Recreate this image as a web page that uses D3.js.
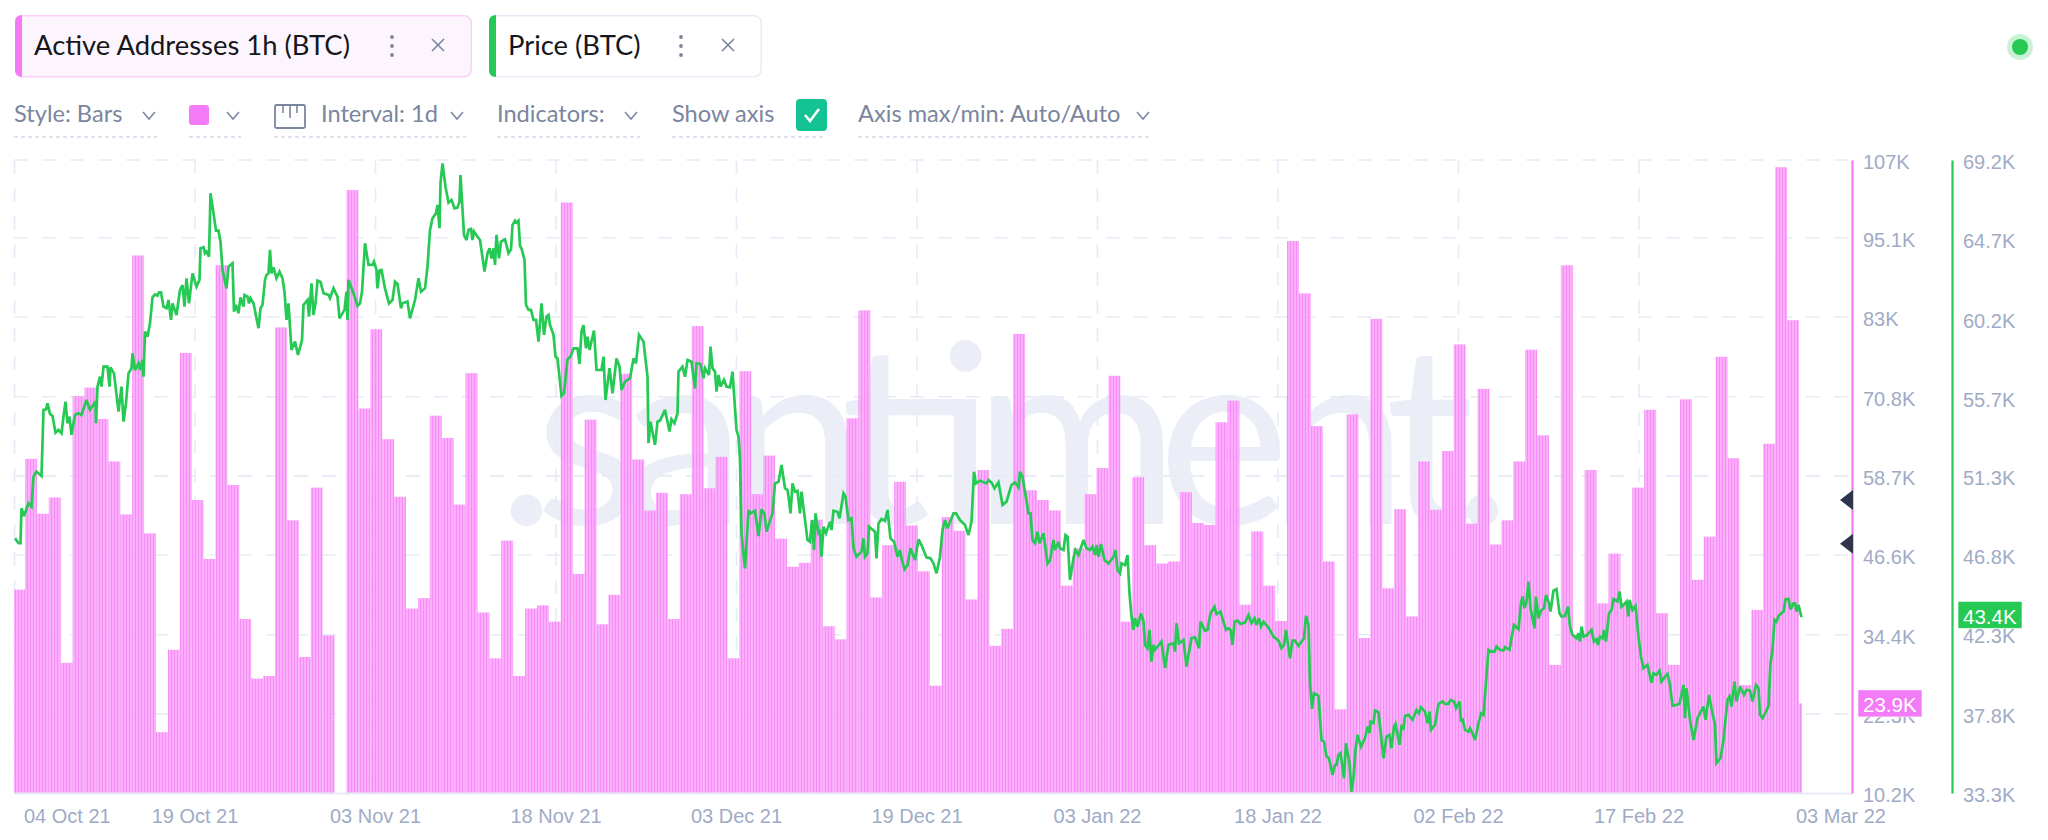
<!DOCTYPE html>
<html>
<head>
<meta charset="utf-8">
<script src="https://cdn.jsdelivr.net/npm/d3@7/dist/d3.min.js"></script>
<style>
  html, body { margin: 0; padding: 0; background: #fff; overflow: hidden; }
  svg { display: block; }
  .ctl { font-family: Lato, "Open Sans", sans-serif; font-size: 23.6px; fill: #7a859e; }
  .chipText { font-family: Lato, "Open Sans", sans-serif; font-size: 27.4px; fill: #15171c; }
  .tick text, .axisText { font-family: "Liberation Sans", Arial, sans-serif; font-size: 20px; fill: #a0abc6; }
</style>
</head>
<body>
<div id="chart"></div>
<script>
//Active addresses per day (thousands), 04 Oct 21 to 03 Mar 22
var activeAddresses = [
  41.3,61.3,52.9,55.4,30.1,70.9,72.2,67.4,60.9,52.8,92.4,49.9,19.5,32.1,77.5,55.0,46.0,90.9,57.3,36.8,
  27.7,28.1,81.4,51.9,31.0,56.9,34.3,10.2,102.4,69.0,81.1,64.3,55.5,38.4,40.0,67.9,64.5,54.3,74.4,37.8,
  30.8,48.8,28.1,38.4,38.9,36.4,100.5,43.7,67.3,36.0,40.5,74.3,61.2,53.4,56.1,36.8,55.9,81.6,56.8,61.6,
  30.8,74.7,55.9,61.8,49.1,44.8,45.4,52.0,35.7,33.7,67.5,84.0,40.1,48.1,57.8,51.1,44.1,26.6,52.4,50.3,
  39.8,59.6,32.7,35.3,80.4,56.5,55.0,53.4,41.9,47.6,55.9,59.9,74.0,36.4,58.5,48.1,45.3,45.6,56.2,51.5,
  51.2,66.9,70.2,39.0,50.2,41.9,36.5,94.6,86.6,66.3,45.6,23.0,68.1,33.9,82.7,41.5,53.6,37.2,60.9,53.5,
  62.5,78.8,51.4,72.0,48.2,51.9,60.9,78.0,64.9,29.8,90.9,34.4,59.6,39.2,46.8,39.2,56.9,68.8,37.7,29.8,
  70.4,42.8,49.4,76.9,61.4,26.7,38.2,63.6,105.9,82.5,23.9
];

//Price (thousands of USD) at its turning points, with the hour since the first reading
var priceHours = [
  2,9,13,15,20,29,35,39,45,55,59,64,67,72,77,83,89,95,99,103,107,111,115,122,129,135,145,152,163,164,
  167,172,175,179,187,191,193,200,209,215,219,224,229,235,237,242,249,252,257,259,262,267,272,277,282,287,290,294,299,305,
  309,314,317,325,332,337,341,345,350,357,365,371,373,379,382,385,390,393,400,404,409,413,417,425,429,437,440,444,449,453,
  459,461,467,470,473,479,489,493,497,502,505,509,512,515,519,525,531,537,541,545,549,555,562,568,576,579,587,590,595,599,
  603,607,613,619,629,632,639,647,651,661,665,667,669,679,687,692,696,702,709,717,720,725,727,731,735,742,750,757,762,767,
  774,777,787,792,802,809,814,822,827,832,837,844,847,851,853,857,863,869,875,881,887,891,893,900,905,909,914,917,920,927,
  932,941,947,951,955,959,962,965,970,974,982,989,994,997,1002,1005,1009,1012,1015,1021,1024,1029,1034,1039,1044,1049,1055,1060,1065,1069,
  1072,1079,1083,1087,1095,1100,1107,1113,1119,1127,1131,1135,1139,1144,1147,1151,1160,1165,1175,1179,1183,1191,1197,1205,1211,1215,1222,1232,1239,1244,
  1250,1259,1267,1269,1273,1282,1287,1292,1302,1311,1315,1321,1327,1329,1337,1342,1347,1355,1362,1365,1373,1379,1382,1390,1393,1397,1402,1405,1409,1413,
  1420,1425,1432,1437,1445,1449,1452,1455,1460,1462,1469,1473,1482,1489,1495,1501,1505,1517,1522,1529,1535,1542,1547,1550,1553,1557,1562,1567,1572,1575,
  1587,1592,1596,1600,1603,1609,1612,1615,1619,1624,1632,1635,1639,1647,1651,1659,1663,1669,1675,1679,1685,1695,1699,1702,1707,1710,1722,1725,1729,1735,
  1742,1747,1753,1760,1767,1772,1775,1781,1787,1793,1802,1809,1815,1819,1825,1833,1839,1845,1852,1857,1862,1867,1879,1884,1892,1902,1909,1915,1920,1924,
  1932,1945,1949,1955,1961,1969,1977,1985,1995,2002,2009,2012,2017,2029,2033,2037,2042,2047,2051,2059,2067,2072,2079,2082,2089,2092,2099,2103,2107,2112,
  2119,2123,2129,2139,2145,2152,2157,2162,2165,2169,2174,2181,2189,2199,2203,2207,2212,2215,2222,2227,2231,2235,2239,2242,2247,2254,2259,2262,2267,2271,
  2275,2279,2282,2295,2302,2309,2319,2322,2325,2330,2339,2345,2355,2362,2370,2373,2382,2387,2393,2401,2405,2413,2424,2429,2433,2437,2441,2447,2453,2462,
  2469,2475,2481,2485,2490,2494,2499,2510,2519,2529,2535,2540,2544,2552,2557,2562,2569,2580,2584,2589,2592,2596,2600,2609,2615,2620,2625,2630,2637,2642,
  2645,2649,2653,2660,2664,2671,2675,2679,2683,2687,2694,2702,2707,2711,2713,2719,2722,2729,2739,2745,2751,2755,2760,2763,2771,2775,2779,2782,2789,2797,
  2805,2810,2814,2822,2827,2831,2834,2842,2849,2857,2862,2869,2873,2880,2884,2891,2894,2897,2902,2909,2912,2917,2922,2929,2934,2939,2949,2955,2961,2965,
  2972,2979,2982,2991,2995,3000,3009,3014,3017,3021,3025,3029,3033,3041,3044,3049,3054,3060,3064,3069,3073,3079,3085,3091,3095,3102,3108,3112,3117,3125,
  3129,3132,3135,3139,3145,3155,3160,3165,3168,3172,3177,3180,3184,3190,3195,3199,3207,3211,3215,3222,3225,3229,3231,3237,3243,3249,3254,3259,3267,3275,
  3279,3285,3291,3295,3302,3307,3312,3317,3331,3339,3342,3345,3352,3359,3367,3379,3383,3390,3395,3402,3405,3413,3419,3427,3431,3435,3441,3445,3452,3460,
  3465,3472,3477,3484,3489,3492,3497,3504,3509,3513,3517,3521,3525,3529,3539,3543,3549,3553,3559,3562,3565,3569,3575
];
var priceValues = [
  47.75,47.47,47.47,49.45,49.01,49.73,49.54,51.25,51.53,51.28,55.03,55.06,55.40,54.80,54.68,53.74,53.89,53.70,54.65,55.50,54.27,54.65,53.61,54.74,54.84,54.74,55.59,55.03,55.50,54.27,
  56.35,56.91,56.35,57.48,57.48,56.35,57.44,57.10,54.93,56.35,54.36,55.40,57.10,57.39,58.24,57.29,57.67,57.29,57.86,56.91,59.47,59.18,59.94,61.41,61.58,61.51,61.70,61.70,60.88,60.79,
  61.26,60.13,61.07,60.41,61.83,62.11,60.88,62.49,61.07,62.77,62.02,62.40,64.19,64.25,63.91,64.00,63.72,67.31,65.99,65.19,65.19,64.57,62.96,61.92,63.15,63.34,60.60,60.98,60.51,61.41,
  60.88,61.55,61.45,61.07,61.36,61.07,59.66,60.79,60.98,62.40,62.68,62.77,64.10,62.77,63.11,62.49,62.87,62.49,61.73,60.13,61.07,58.43,58.90,58.14,58.99,60.98,61.26,60.32,62.21,60.41,
  61.07,62.36,62.30,61.64,61.55,61.36,61.92,61.45,60.22,60.70,61.73,60.13,62.40,61.64,60.92,61.07,61.73,64.48,63.25,63.25,63.44,62.96,61.92,62.93,62.96,61.92,61.07,61.26,62.30,62.17,
  60.79,61.07,61.17,60.22,61.26,62.49,61.73,61.92,63.15,65.23,65.89,66.18,66.65,65.33,67.88,69.01,67.69,66.78,66.93,66.46,66.50,66.84,68.35,64.95,64.66,65.23,65.29,64.66,65.14,64.85,
  64.66,62.87,63.91,64.19,63.62,64.19,63.25,64.95,63.62,64.57,64.70,63.91,64.13,65.51,65.76,65.65,65.76,64.32,64.19,63.53,60.98,60.70,60.70,60.13,60.13,58.90,61.07,59.28,60.32,60.41,
  59.84,59.28,58.05,57.95,55.82,55.97,57.90,58.05,58.52,58.52,57.63,59.47,59.84,58.52,59.18,58.43,59.52,57.29,57.29,58.05,55.59,57.39,55.97,57.95,57.48,56.16,56.63,56.82,57.95,57.67,
  59.28,58.90,56.91,53.14,54.36,53.04,54.36,54.42,55.03,53.80,54.50,54.27,54.84,57.20,57.48,56.91,57.86,57.76,56.25,57.67,57.63,56.82,57.39,57.01,58.62,57.39,57.20,56.06,57.01,56.35,
  56.73,56.35,56.31,57.20,53.89,53.51,52.19,48.03,46.52,46.04,49.35,49.16,49.31,47.87,49.39,49.12,48.12,49.16,50.86,50.95,51.90,50.58,50.48,49.92,49.16,50.86,50.39,50.44,49.16,50.39,
  47.65,47.55,48.78,47.08,49.16,48.03,48.12,46.70,48.40,48.03,48.69,48.21,49.31,49.25,48.88,50.29,50.10,48.78,48.88,47.18,46.70,46.99,47.74,46.70,46.89,48.40,48.12,46.61,48.59,48.84,
  48.74,49.35,47.74,47.55,46.70,47.08,46.61,45.98,46.23,47.18,46.51,47.68,47.36,47.08,46.66,46.61,46.32,45.76,46.70,48.21,48.78,48.31,49.16,49.16,48.78,48.50,47.93,48.69,51.52,50.86,
  51.01,50.86,51.05,50.90,50.58,50.92,49.63,49.82,50.77,50.92,50.63,51.52,51.24,49.16,49.16,47.65,47.46,48.12,47.46,48.03,46.32,46.51,47.65,47.08,47.55,47.18,47.08,47.93,47.84,45.38,
  46.61,47.08,46.80,47.65,47.18,47.08,47.27,46.80,47.36,46.70,47.42,46.51,46.32,46.70,47.08,45.95,45.76,46.33,46.23,46.80,44.63,43.31,42.55,43.21,42.74,43.49,43.02,41.70,41.51,42.55,
  40.75,41.70,41.42,41.89,40.38,41.70,41.79,41.32,42.93,41.79,41.98,40.47,42.08,42.13,41.51,43.02,42.51,42.55,43.49,43.87,43.44,43.59,42.55,42.64,42.55,41.70,43.02,43.08,42.89,42.96,
  43.40,42.93,43.21,42.83,43.21,42.74,43.02,42.64,42.17,41.94,41.51,41.70,42.55,40.94,41.94,41.94,41.64,42.08,43.34,42.83,39.53,38.07,38.96,38.81,36.31,36.22,35.37,35.27,34.33,34.90,
  34.90,35.46,35.56,34.14,36.12,34.99,33.38,34.14,35.75,36.60,35.93,36.41,37.07,36.69,37.35,37.26,37.98,37.88,35.27,36.50,36.60,35.84,37.07,37.22,36.03,37.07,36.97,37.67,37.73,37.45,
  38.01,37.82,38.16,37.92,37.26,37.92,36.88,37.16,38.35,38.49,38.35,38.35,38.58,38.49,38.11,38.49,37.35,37.54,36.88,36.78,36.97,36.69,36.31,37.26,37.82,37.73,41.42,41.32,41.32,41.60,
  41.42,41.38,41.57,41.42,42.08,42.83,42.59,44.06,44.44,43.78,44.16,45.29,43.78,42.64,44.44,43.21,43.65,43.78,44.53,44.16,43.59,44.78,44.87,43.49,43.31,43.34,43.87,42.74,42.27,42.08,
  42.36,41.89,42.74,42.17,42.23,42.55,41.89,42.02,41.70,42.17,42.08,42.55,41.89,43.49,43.68,44.29,44.16,44.72,43.87,44.06,44.16,43.31,44.25,43.68,43.91,42.17,41.04,40.38,40.57,39.56,
  40.09,40.00,40.24,39.62,39.90,40.05,39.43,38.24,38.35,39.43,37.54,39.24,37.45,36.31,37.54,38.20,37.45,38.86,38.11,37.16,34.99,35.27,36.31,38.58,38.77,38.20,39.62,38.49,39.34,38.86,
  39.15,39.11,38.49,39.43,39.24,37.73,37.54,37.92,38.24,40.66,41.42,43.12,43.02,43.34,43.59,44.29,44.31,43.72,44.06,44.06,43.59,43.97,43.27
];

var dateLabels = ["04 Oct 21","19 Oct 21","03 Nov 21","18 Nov 21","03 Dec 21","19 Dec 21","03 Jan 22","18 Jan 22","02 Feb 22","17 Feb 22"];
var lastDateLabel = "03 Mar 22";
var addressTicks = [10.2,22.3,34.4,46.6,58.7,70.8,83,95.1,107];
var addressTickLabels = ["10.2K","22.3K","34.4K","46.6K","58.7K","70.8K","83K","95.1K","107K"];
var priceTicks = [33.3,37.8,42.3,46.8,51.3,55.7,60.2,64.7,69.2];
var priceTickLabels = ["33.3K","37.8K","42.3K","46.8K","51.3K","55.7K","60.2K","64.7K","69.2K"];
var alertLevels = [55.0,48.3];
var lastAddresses = 23.9;
var lastPrice = 43.4;

var pink = "#f47bf7";
var green = "#26c953";
var gridColor = "#e7ebf5";

//Plot area
var w = 2048, h = 840;
var left = 14, right = 1852, top_ = 160, bottom = 793, dataEnd = 1802;

var svg = d3.select("#chart").append("svg").attr("width", w).attr("height", h);

//Scales
var barX = d3.scaleLinear().domain([0, activeAddresses.length - 1]).range([13.1, 1799]);
var barWidth = barX(1) - barX(0);
var hourX = d3.scaleLinear().domain([0, 3576]).range([left, dataEnd]);
var gridX = d3.scaleLinear().domain([0, dateLabels.length - 1]).range([14.5, 1639]);
var addressY = d3.scaleLinear().domain([10.2, 107]).range([bottom, top_]);
var priceY = d3.scaleLinear().domain([33.3, 69.2]).range([bottom, top_]);

var defs = svg.append("defs");
var stripes = defs.append("pattern").attr("id", "stripes").attr("patternUnits", "userSpaceOnUse")
  .attr("width", 3).attr("height", 10);
stripes.append("rect").attr("width", 3).attr("height", 10).attr("fill", "#fba9fb");
stripes.append("rect").attr("width", 1).attr("height", 10).attr("fill", "#f783f8");
defs.append("clipPath").attr("id", "plotClip").append("rect")
  .attr("x", left).attr("y", top_).attr("width", dataEnd - left).attr("height", bottom - top_);

//Header chips
function chip(x, width, stripe, fill, border, label, dotsX, closeX) {
  var g = svg.append("g");
  g.append("rect").attr("x", x + .75).attr("y", 15.75).attr("width", width - 1.5).attr("height", 61)
    .attr("rx", 7).attr("fill", fill).attr("stroke", border).attr("stroke-width", 1.5);
  g.append("path")
    .attr("d", "M" + (x + 7) + ",15 H" + (x + 7) + " Q" + x + ",15 " + x + ",22 V70 Q" + x + ",77 " + (x + 7) + ",77 Z")
    .attr("fill", stripe);
  g.append("text").attr("class", "chipText").attr("x", x + 19).attr("y", 55).text(label);
  [37, 46, 55].forEach(function(cy) {
    g.append("circle").attr("cx", dotsX).attr("cy", cy).attr("r", 1.9).attr("fill", "#7a859e");
  });
  g.append("path").attr("d", "M" + (closeX - 6) + ",39 L" + (closeX + 6) + ",51 M" + (closeX + 6) + ",39 L" + (closeX - 6) + ",51")
    .attr("stroke", "#7a859e").attr("stroke-width", 1.6).attr("fill", "none");
}
chip(15, 457, pink, "#fdf5fe", "#fbd0fc", "Active Addresses 1h (BTC)", 392, 438);
chip(489, 273, green, "#ffffff", gridColor, "Price (BTC)", 681, 728);

//Status dot
svg.append("circle").attr("cx", 2020).attr("cy", 47).attr("r", 13).attr("fill", "#c9f1d5");
svg.append("circle").attr("cx", 2020).attr("cy", 47).attr("r", 8).attr("fill", green);

//Settings row
function chevron(x) {
  svg.append("path").attr("d", "M" + (x - 6) + ",112 L" + x + ",119 L" + (x + 6) + ",112")
    .attr("fill", "none").attr("stroke", "#7a859e").attr("stroke-width", 1.5);
}
function underline(x1, x2) {
  svg.append("line").attr("x1", x1).attr("x2", x2).attr("y1", 137).attr("y2", 137)
    .attr("stroke", "#d5d9e6").attr("stroke-width", 1.5).attr("stroke-dasharray", "4 3");
}
function ctlText(x, label) {
  svg.append("text").attr("class", "ctl").attr("x", x).attr("y", 122).text(label);
}
ctlText(14, "Style: Bars"); chevron(149); underline(14, 157);
svg.append("rect").attr("x", 189).attr("y", 105).attr("width", 20).attr("height", 20).attr("rx", 3).attr("fill", pink);
chevron(233); underline(189, 241);
svg.append("rect").attr("x", 275).attr("y", 105).attr("width", 30).attr("height", 23).attr("rx", 1.5)
  .attr("fill", "none").attr("stroke", "#7a859e").attr("stroke-width", 1.8);
[283, 290, 297].forEach(function(x, i) {
  svg.append("line").attr("x1", x).attr("x2", x).attr("y1", 105).attr("y2", i == 1 ? 118 : 113)
    .attr("stroke", "#7a859e").attr("stroke-width", 1.6);
});
ctlText(321, "Interval: 1d"); chevron(457); underline(274, 466);
ctlText(497, "Indicators:"); chevron(631); underline(497, 640);
ctlText(672, "Show axis");
svg.append("rect").attr("x", 796).attr("y", 99).attr("width", 31).attr("height", 32).attr("rx", 4).attr("fill", "#14c393");
svg.append("path").attr("d", "M805,115 L810,121 L819,109").attr("fill", "none").attr("stroke", "#fff").attr("stroke-width", 2.6);
underline(672, 825);
ctlText(858, "Axis max/min: Auto/Auto"); chevron(1143); underline(858, 1152);

//Watermark
svg.append("text").attr("x", 497).attr("y", 524)
  .attr("textLength", 1015).attr("lengthAdjust", "spacing")
  .attr("font-family", "Lato, 'Open Sans', sans-serif").attr("font-weight", 400).attr("font-size", 250)
  .attr("fill", "#ebeef6").text(".santiment.");

//Grid
svg.append("g").selectAll("line").data(addressTicks.slice(1)).enter().append("line")
  .attr("x1", left).attr("x2", right)
  .attr("y1", function(d) { return addressY(d); }).attr("y2", function(d) { return addressY(d); })
  .attr("stroke", gridColor).attr("stroke-width", 1.6).attr("stroke-dasharray", "14 14");
svg.append("g").selectAll("line").data(dateLabels).enter().append("line")
  .attr("x1", function(d, i) { return gridX(i); }).attr("x2", function(d, i) { return gridX(i); })
  .attr("y1", top_).attr("y2", bottom)
  .attr("stroke", gridColor).attr("stroke-width", 1.6).attr("stroke-dasharray", "14 14");

//Bars
svg.append("g").attr("clip-path", "url(#plotClip)").attr("opacity", .93)
  .selectAll("rect").data(activeAddresses).enter().append("rect")
  .attr("x", function(d, i) { return barX(i); })
  .attr("y", function(d) { return addressY(d); })
  .attr("width", barWidth)
  .attr("height", function(d) { return bottom - addressY(d); })
  .attr("fill", "url(#stripes)");

//Bottom axis line and date labels
svg.append("line").attr("x1", left).attr("x2", right).attr("y1", bottom + .5).attr("y2", bottom + .5)
  .attr("stroke", gridColor).attr("stroke-width", 2);
svg.append("g").selectAll("text").data(dateLabels).enter().append("text")
  .attr("class", "axisText")
  .attr("x", function(d, i) { return i == 0 ? 24 : gridX(i); })
  .attr("y", 823)
  .attr("text-anchor", function(d, i) { return i == 0 ? "start" : "middle"; })
  .text(function(d) { return d; });
svg.append("text").attr("class", "axisText").attr("x", 1886).attr("y", 823).attr("text-anchor", "end").text(lastDateLabel);

//Price line
var priceLine = d3.line()
  .x(function(d) { return hourX(d[0]); })
  .y(function(d) { return priceY(d[1]); });
svg.append("path").datum(d3.zip(priceHours, priceValues))
  .attr("d", priceLine).attr("fill", "none").attr("stroke", green)
  .attr("stroke-width", 2.7).attr("stroke-linejoin", "miter").attr("stroke-miterlimit", 3);

//Right axes
function rightAxis(x, scale, ticks, labels, color) {
  var axis = d3.axisRight(scale).tickValues(ticks).tickSize(0).tickPadding(11)
    .tickFormat(function(d, i) { return labels[i]; });
  var g = svg.append("g").attr("transform", "translate(" + x + ",0)").call(axis);
  g.select(".domain").attr("stroke", color).attr("stroke-width", 2.2);
  g.selectAll("text").attr("dy", "0.42em");
}
rightAxis(1852, addressY, addressTicks, addressTickLabels, pink);
rightAxis(1952, priceY, priceTicks, priceTickLabels, green);

//Alert markers
svg.append("g").selectAll("path").data(alertLevels).enter().append("path")
  .attr("d", function(d) {
    var y = addressY(d);
    return "M1840," + y + " L1853," + (y - 10) + " V" + (y + 10) + " Z";
  })
  .attr("fill", "#2f354d");

//Last value tags
function lastTag(x, width, y, color, label) {
  svg.append("rect").attr("x", x).attr("y", y - 13.5).attr("width", width).attr("height", 27)
    .attr("fill", color).attr("stroke", "#fff").attr("stroke-opacity", .6);
  svg.append("text").attr("x", x + 5).attr("y", y + 9)
    .attr("font-family", "'Liberation Sans', Arial, sans-serif").attr("font-size", 20.5).attr("fill", "#fff").text(label);
}
lastTag(1858, 64, addressY(lastAddresses), pink, "23.9K");
lastTag(1958, 64, priceY(lastPrice), green, "43.4K");
</script>
</body>
</html>
